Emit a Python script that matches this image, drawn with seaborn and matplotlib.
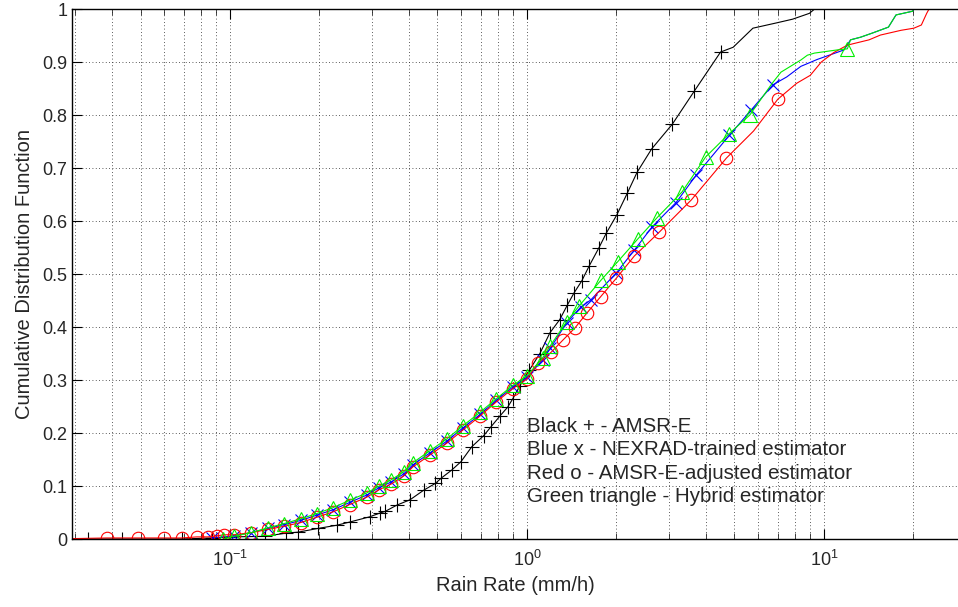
import matplotlib
matplotlib.use('Agg')
import matplotlib.pyplot as plt
import seaborn as sns
from matplotlib.ticker import LogLocator, FixedLocator, NullFormatter

sns.set_style('ticks')
plt.rcParams['font.family'] = ['Liberation Sans', 'DejaVu Sans']
plt.rcParams['mathtext.fontset'] = 'custom'
plt.rcParams['mathtext.rm'] = 'Liberation Sans'

# --- CDF curves (rain rate mm/h, cumulative fraction) ---
amsr_x = [0.025, 0.0333, 0.0433, 0.069, 0.087, 0.100, 0.131, 0.154, 0.170, 0.198,
          0.229, 0.253, 0.296, 0.320, 0.333, 0.365, 0.404, 0.449, 0.492, 0.515,
          0.558, 0.600, 0.652, 0.715, 0.755, 0.811, 0.862, 0.897, 0.947, 1.02,
          1.106, 1.195, 1.29, 1.37, 1.44, 1.53, 1.62, 1.75, 1.85, 2.01,
          2.18, 2.35, 2.63, 3.09, 3.66, 4.49, 4.95, 5.77, 6.93, 7.85, 8.94, 9.3]
amsr_y = [0, 0, 0, 0, 0.002, 0.004, 0.005, 0.011, 0.013, 0.020,
          0.026, 0.032, 0.042, 0.049, 0.052, 0.064, 0.074, 0.092, 0.105, 0.115,
          0.130, 0.146, 0.174, 0.195, 0.211, 0.232, 0.249, 0.265, 0.289, 0.319,
          0.350, 0.389, 0.414, 0.442, 0.464, 0.487, 0.515, 0.550, 0.577, 0.612,
          0.653, 0.692, 0.736, 0.783, 0.845, 0.919, 0.928, 0.964, 0.974, 0.981, 0.992, 1.0]

nexrad_x = [0.087, 0.103, 0.118, 0.134, 0.152, 0.173, 0.196, 0.222, 0.253, 0.289,
            0.318, 0.350, 0.385, 0.413, 0.47, 0.538, 0.61, 0.695, 0.79, 0.897,
            1.0, 1.13, 1.20, 1.36, 1.52, 1.64, 2.0, 2.3, 2.64, 3.18,
            3.72, 4.81, 5.7, 6.73, 7.5, 8.37, 9.5, 11.7, 12.3, 13.3,
            14.6, 16.5, 17.5, 19.9, 20.1]
nexrad_y = [0.002, 0.006, 0.012, 0.020, 0.027, 0.035, 0.045, 0.055, 0.069, 0.083,
            0.097, 0.108, 0.123, 0.140, 0.162, 0.185, 0.210, 0.235, 0.262, 0.287,
            0.305, 0.338, 0.360, 0.408, 0.438, 0.451, 0.502, 0.545, 0.589, 0.635,
            0.687, 0.762, 0.810, 0.857, 0.872, 0.892, 0.905, 0.923, 0.942, 0.947,
            0.955, 0.966, 0.989, 0.996, 1.0]

adj_x = [0.025, 0.0385, 0.049, 0.060, 0.069, 0.0774, 0.0843, 0.0904, 0.0954, 0.103,
         0.118, 0.134, 0.152, 0.173, 0.196, 0.222, 0.253, 0.289, 0.318, 0.350,
         0.385, 0.413, 0.47, 0.538, 0.61, 0.695, 0.79, 0.897, 1.0, 1.09,
         1.21, 1.32, 1.45, 1.59, 1.77, 2.0, 2.30, 2.79, 3.58, 4.70,
         5.8, 7.0, 8.1, 9.0, 9.8, 10.8, 12.0, 14.2, 15.5, 18.2,
         20.1, 21.3, 22.2, 22.6]
adj_y = [0, 0.002, 0.002, 0.002, 0.002, 0.004, 0.004, 0.006, 0.008, 0.008,
         0.012, 0.018, 0.024, 0.031, 0.041, 0.051, 0.065, 0.079, 0.093, 0.104,
         0.119, 0.136, 0.158, 0.181, 0.206, 0.232, 0.259, 0.284, 0.302, 0.332,
         0.353, 0.375, 0.398, 0.426, 0.457, 0.492, 0.534, 0.579, 0.640, 0.719,
         0.770, 0.830, 0.860, 0.875, 0.900, 0.918, 0.932, 0.942, 0.951, 0.960,
         0.964, 0.970, 0.992, 1.0]

hybrid_x = [0.095, 0.103, 0.118, 0.134, 0.152, 0.173, 0.196, 0.222, 0.253, 0.289,
            0.318, 0.350, 0.385, 0.413, 0.47, 0.538, 0.61, 0.695, 0.79, 0.897,
            1.0, 1.13, 1.2, 1.36, 1.5, 1.78, 2.02, 2.37, 2.74, 3.33,
            4.0, 4.8, 5.63, 6.7, 7.17, 8.37, 8.8, 9.3, 11.1, 12.0,
            12.3, 13.3, 14.6, 16.5, 17.5, 19.9, 20.1]
hybrid_y = [0.0, 0.005, 0.012, 0.021, 0.029, 0.038, 0.048, 0.059, 0.073, 0.087,
            0.100, 0.112, 0.127, 0.144, 0.166, 0.189, 0.214, 0.239, 0.265, 0.290,
            0.308, 0.342, 0.365, 0.410, 0.440, 0.489, 0.523, 0.567, 0.606, 0.655,
            0.721, 0.765, 0.800, 0.860, 0.881, 0.904, 0.913, 0.917, 0.923, 0.925,
            0.942, 0.947, 0.955, 0.966, 0.989, 0.996, 1.0]

legend_lines = ['Black + - AMSR-E',
                'Blue x - NEXRAD-trained estimator',
                'Red o - AMSR-E-adjusted estimator',
                'Green triangle - Hybrid estimator']

fig = plt.figure(figsize=(9.58, 6.07), dpi=100)
ax = fig.add_axes([0.0752, 0.112, 0.9248, 0.873])

common = dict(estimator=None, sort=False, ax=ax, lw=0.8, mew=0.8,
              markerfacecolor='none', legend=False)
sns.lineplot(x=amsr_x, y=amsr_y, color='k', marker='+', markersize=10,
             markeredgecolor='k', markevery=slice(0, 46), **common)
sns.lineplot(x=nexrad_x, y=nexrad_y, color='#0000ff', marker='x', markersize=8,
             markeredgecolor='#0000ff', markevery=slice(0, 34), **common)
sns.lineplot(x=adj_x, y=adj_y, color='#ff0000', marker='o', markersize=9,
             markeredgecolor='#ff0000',
             markevery=list(range(0, 40)) + [41], **common)
sns.lineplot(x=hybrid_x, y=hybrid_y, color='#00ee00', marker='^', markersize=10,
             markeredgecolor='#00ee00',
             markevery=list(range(0, 33)) + [39], **common)

ax.set_xscale('log')
ax.set_xlim(0.0294, 28.3)
ax.set_ylim(0, 1)
ax.set_yticks([i / 10 for i in range(11)])
ax.set_yticklabels(['0', '0.1', '0.2', '0.3', '0.4', '0.5', '0.6', '0.7', '0.8', '0.9', '1'])
ax.xaxis.set_major_locator(FixedLocator([0.1, 1, 10]))
ax.xaxis.set_minor_locator(LogLocator(base=10, subs=range(2, 10), numticks=20))
ax.xaxis.set_minor_formatter(NullFormatter())

grid_kw = dict(color='0.15', linestyle=(0, (1, 3)), linewidth=0.6)
ax.grid(True, which='major', axis='both', **grid_kw)
ax.grid(True, which='minor', axis='x', **grid_kw)
ax.set_axisbelow(True)

ax.tick_params(axis='both', which='major', direction='in', length=7, width=0.8,
               labelsize=13, top=True, color='k')
ax.tick_params(axis='x', which='minor', direction='in', length=4, width=0.6, top=True)
ax.tick_params(axis='x', which='major', pad=8)
ax.spines['right'].set_visible(False)
for s in ['left', 'bottom', 'top']:
    ax.spines[s].set_linewidth(1.0)
    ax.spines[s].set_color('k')

ax.set_xlabel('Rain Rate (mm/h)', fontsize=14.5, labelpad=4)
ax.set_ylabel('Cumulative Distribution Function', fontsize=14.5, labelpad=6)

for i, txt in enumerate(legend_lines):
    ax.text(1.0, 0.202 - i * 0.044, txt, fontsize=14.8, va='baseline', ha='left')

fig.savefig('out.png', dpi=100)
